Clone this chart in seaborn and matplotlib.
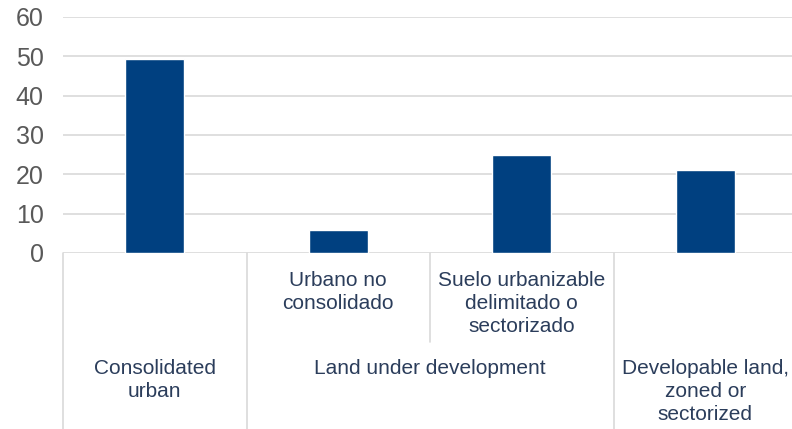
import matplotlib
matplotlib.use('Agg')
import matplotlib.pyplot as plt
import seaborn as sns
import pandas as pd

# values
sub_labels = ['', 'Urbano no\nconsolidado', 'Suelo urbanizable\ndelimitado o\nsectorizado', '']
group_labels = ['Consolidated\nurban', 'Land under development', 'Developable land,\nzoned or\nsectorized']
group_sizes = [1, 2, 1]
values = [49.3, 5.9, 24.9, 21.1]

df = pd.DataFrame({'pos': range(len(values)), 'value': values})

sns.set_style('white')
plt.rcParams['font.family'] = ['Liberation Sans', 'DejaVu Sans']

W, H = 792, 429
fig = plt.figure(figsize=(W / 100, H / 100), dpi=100)
x0, x1, ytop, ybot = 63, 797, 17, 253
ax = fig.add_axes([x0 / W, (H - ybot) / H, (x1 - x0) / W, (ybot - ytop) / H])

sns.barplot(data=df, x='pos', y='value', color='#004080', width=0.32,
            saturation=1, ax=ax, zorder=3)

grid_c = '#D9D9D9'
ax.set_ylim(0, 60)
ax.set_xlim(-0.5, len(values) - 0.5)
ax.set_yticks(range(0, 61, 10))
for t in range(0, 61, 10):
    ax.axhline(t, color=grid_c, lw=1.2, zorder=1)
for s in ax.spines.values():
    s.set_visible(False)
ax.set_xticks([])
ax.set_xlabel('')
ax.set_ylabel('')
ax.tick_params(axis='y', length=0, pad=14, labelsize=18, labelcolor='#595959')

txt_c = '#2B3D5B'
px = ybot - ytop
tr = ax.get_xaxis_transform()
fs = 15

def fy(pix):
    return -(pix - ybot) / px

# second-level labels and separators between sub-categories
for i, lab in enumerate(sub_labels):
    if lab:
        ax.text(i, fy(271), lab, transform=tr, ha='center', va='top',
                fontsize=fs, color=txt_c, linespacing=1.27)

# group labels and outer separators
start = 0
edges = [-0.5]
for lab, n in zip(group_labels, group_sizes):
    center = start + (n - 1) / 2
    ax.text(center, fy(359), lab, transform=tr, ha='center', va='top',
            fontsize=fs, color=txt_c, linespacing=1.27)
    for k in range(1, n):
        ax.plot([start + k - 0.5] * 2, [0, fy(342)], transform=tr,
                color=grid_c, lw=1.2, clip_on=False)
    start += n
    edges.append(start - 0.5)

for e in edges:
    ax.plot([e, e], [0, fy(H + 2)], transform=tr, color=grid_c, lw=1.2, clip_on=False)

fig.savefig('out.png', dpi=100)
